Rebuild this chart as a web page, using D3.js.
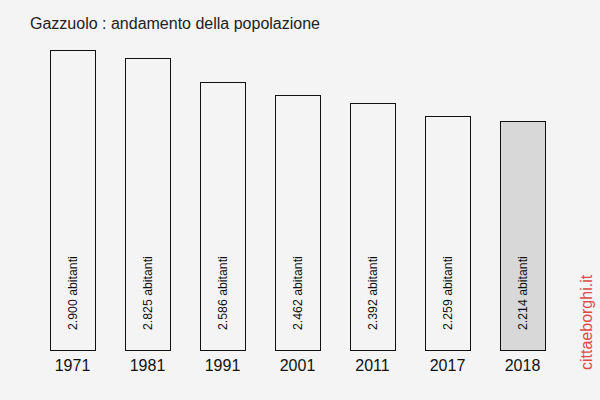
<!DOCTYPE html>
<html><head><meta charset="utf-8">
<script src="https://cdn.jsdelivr.net/npm/d3@7"></script>
<style>body{margin:0;background:#f4f4f4}svg{display:block}</style>
</head><body>
<script>
const years = ["1971","1981","1991","2001","2011","2017","2018"];
const population = [2900, 2825, 2586, 2462, 2392, 2259, 2214];
const labels = ["2.900 abitanti","2.825 abitanti","2.586 abitanti","2.462 abitanti","2.392 abitanti","2.259 abitanti","2.214 abitanti"];

const W = 600, H = 400;
const svg = d3.select("body").append("svg").attr("width", W).attr("height", H);
svg.append("rect").attr("width", W).attr("height", H).attr("fill", "#f4f4f4");

const x = d3.scaleBand().domain(years).range([35, 560]).paddingInner(0.4).paddingOuter(0.2);
const y = d3.scaleLinear().domain([0, 2900]).range([350, 50]);

svg.append("text").attr("x", 30).attr("y", 29).attr("font-family", "Liberation Sans, Arial, sans-serif")
  .attr("font-size", 16).attr("fill", "#222").text("Gazzuolo : andamento della popolazione");

const g = svg.append("g");
g.selectAll("rect.bar").data(years).join("rect").attr("class", "bar")
  .attr("x", d => Math.round(x(d)) + 0.5)
  .attr("y", (d, i) => Math.round(y(population[i])) + 0.5)
  .attr("width", Math.round(x.bandwidth()))
  .attr("height", (d, i) => Math.round(350 - y(population[i])))
  .attr("fill", (d, i) => i === years.length - 1 ? "#d8d8d8" : "#f4f4f4")
  .attr("stroke", "#111").attr("stroke-width", 1);

g.selectAll("text.val").data(years).join("text").attr("class", "val")
  .attr("transform", d => `translate(${x(d) + x.bandwidth() / 2 + 4},330) rotate(-90)`)
  .attr("font-family", "Liberation Sans, Arial, sans-serif").attr("font-size", 12.3).attr("fill", "#111")
  .text((d, i) => labels[i]);

g.selectAll("text.yr").data(years).join("text").attr("class", "yr")
  .attr("x", d => x(d) + x.bandwidth() / 2).attr("y", 371).attr("text-anchor", "middle")
  .attr("font-family", "Liberation Sans, Arial, sans-serif").attr("font-size", 16).attr("fill", "#111")
  .text(d => d);

svg.append("text").attr("transform", "translate(592,370) rotate(-90)")
  .attr("font-family", "Liberation Sans, Arial, sans-serif").attr("font-size", 16).attr("fill", "#e04848")
  .text("cittaeborghi.it");
</script>
</body></html>
